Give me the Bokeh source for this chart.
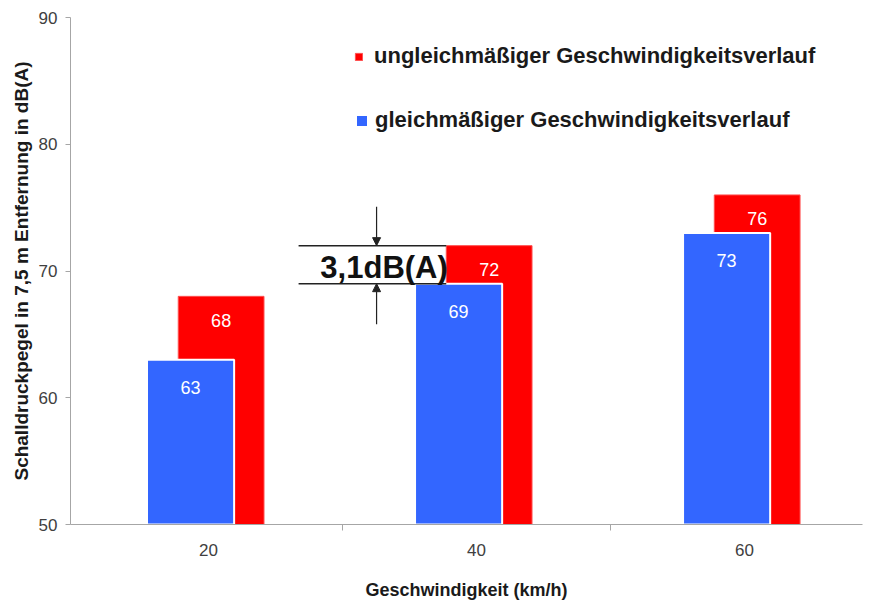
from bokeh.plotting import figure
from bokeh.models import (ColumnDataSource, FixedTicker, Legend, LegendItem, Arrow,
                          NormalHead, Range1d)
from bokeh.transform import dodge
from bokeh.core.properties import value
from bokeh.embed import file_html
from bokeh.resources import INLINE

# ---- data ----
speeds = ["20", "40", "60"]
uneven = [68, 72, 76]      # ungleichmäßiger Geschwindigkeitsverlauf
even = [63, 69, 73]        # gleichmäßiger Geschwindigkeitsverlauf
y_ticks = [50, 60, 70, 80, 90]
diff_label = "3,1dB(A)"
diff_index = 1             # annotated group (40 km/h)

FONT = "Liberation Sans"
RED = "#ff0000"
BLUE = "#3366ff"

x_pos = list(range(1, len(speeds) + 1))
src = ColumnDataSource(dict(
    x=x_pos, uneven=uneven, even=even,
    uneven_s=[str(v) for v in uneven], even_s=[str(v) for v in even],
))

p = figure(width=864, height=602, output_backend="svg", toolbar_location=None,
           x_range=Range1d(0.485, 3.44), y_range=Range1d(y_ticks[0], y_ticks[-1]),
           min_border_left=70, min_border_right=2, min_border_top=17, min_border_bottom=76,
           outline_line_color=None)
p.grid.visible = False
p.background_fill_color = "white"

RED_OFF, BLUE_OFF = 0.047, -0.067
red_r = p.vbar(x=dodge("x", RED_OFF), top="uneven", bottom=y_ticks[0], width=0.32,
               source=src, fill_color=RED, line_color="#ff5050", line_width=1)
blue_r = p.vbar(x=dodge("x", BLUE_OFF), top="even", bottom=y_ticks[0], width=0.325,
                source=src, fill_color=BLUE, line_color="white", line_width=2)

p.text(x=dodge("x", RED_OFF), y="uneven", text="uneven_s", source=src,
       text_align="center", text_baseline="middle", y_offset=24,
       text_color="white", text_font_size="18px", text_font=value(FONT))
p.text(x=dodge("x", BLUE_OFF), y="even", text="even_s", source=src,
       text_align="center", text_baseline="middle", y_offset=28,
       text_color="white", text_font_size="18px", text_font=value(FONT))

# ---- difference annotation ----
cx = x_pos[diff_index]
hi, lo = uneven[diff_index], even[diff_index]
line_x0 = cx - 0.664
line_x1 = cx + RED_OFF - 0.16
p.segment(x0=[line_x0, line_x0], x1=[line_x1, line_x1], y0=[hi, lo], y1=[hi, lo],
          line_color="#222222", line_width=1.5)
ax = cx - 0.373
p.add_layout(Arrow(x_start=ax, y_start=hi + 3.07, x_end=ax, y_end=hi,
                   line_color="#222222", line_width=1.2,
                   end=NormalHead(size=8, fill_color="#222222", line_color="#222222")))
p.add_layout(Arrow(x_start=ax, y_start=lo - 3.2, x_end=ax, y_end=lo,
                   line_color="#222222", line_width=1.2,
                   end=NormalHead(size=8, fill_color="#222222", line_color="#222222")))
p.text(x=[cx - 0.345], y=[(hi + lo) / 2], text=[diff_label], text_align="center",
       text_baseline="middle", y_offset=3, text_color="#111111", text_font_size="31px",
       text_font_style="bold", text_font=value(FONT))

# ---- axes ----
p.yaxis.ticker = FixedTicker(ticks=y_ticks)
p.yaxis.axis_line_color = "#a6a6a6"
p.yaxis.major_tick_line_color = "#a6a6a6"
p.yaxis.major_tick_out = 5
p.yaxis.major_tick_in = 0
p.yaxis.minor_tick_line_color = None
p.yaxis.major_label_standoff = 8
p.yaxis.major_label_text_font = FONT
p.yaxis.major_label_text_font_size = "17px"
p.yaxis.major_label_text_color = "#404040"
p.yaxis.axis_label = "Schalldruckpegel in 7,5 m Entfernung in dB(A)"
p.yaxis.axis_label_text_font = FONT
p.yaxis.axis_label_text_font_size = "19px"
p.yaxis.axis_label_text_font_style = "bold"
p.yaxis.axis_label_text_color = "#1a1a1a"
p.yaxis.axis_label_standoff = 4

p.xaxis.ticker = FixedTicker(ticks=x_pos, minor_ticks=[x + 0.5 for x in x_pos[:-1]])
p.xaxis.major_label_overrides = {x: s for x, s in zip(x_pos, speeds)}
p.xaxis.axis_line_color = "#a6a6a6"
p.xaxis.major_tick_line_color = None
p.xaxis.major_tick_out = 0
p.xaxis.major_tick_in = 0
p.xaxis.minor_tick_line_color = "#a6a6a6"
p.xaxis.minor_tick_out = 6
p.xaxis.minor_tick_in = 0
p.xaxis.major_label_standoff = 13
p.xaxis.major_label_text_font = FONT
p.xaxis.major_label_text_font_size = "17px"
p.xaxis.major_label_text_color = "#404040"
p.xaxis.axis_label = "Geschwindigkeit (km/h)"
p.xaxis.axis_label_text_font = FONT
p.xaxis.axis_label_text_font_size = "18px"
p.xaxis.axis_label_text_font_style = "bold"
p.xaxis.axis_label_text_color = "#1a1a1a"
p.xaxis.axis_label_standoff = 21

# ---- legends ----
def make_legend(label, rend, loc, gsize, standoff):
    lg = Legend(items=[LegendItem(label=label, renderers=[rend])], location=loc,
                border_line_color=None, background_fill_alpha=0, padding=0, margin=0,
                spacing=0, glyph_width=gsize, glyph_height=gsize, label_standoff=standoff,
                label_height=24, label_text_font=FONT, label_text_font_size="22px",
                label_text_font_style="bold", label_text_color="#1a1a1a",
                label_text_baseline="middle")
    p.add_layout(lg, "center")

make_legend("ungleichmäßiger Geschwindigkeitsverlauf", red_r, (284, 455), 9, 11)
make_legend("gleichmäßiger Geschwindigkeitsverlauf", blue_r, (284, 391), 15, 6)

open("out.html", "w").write(file_html(p, INLINE))
